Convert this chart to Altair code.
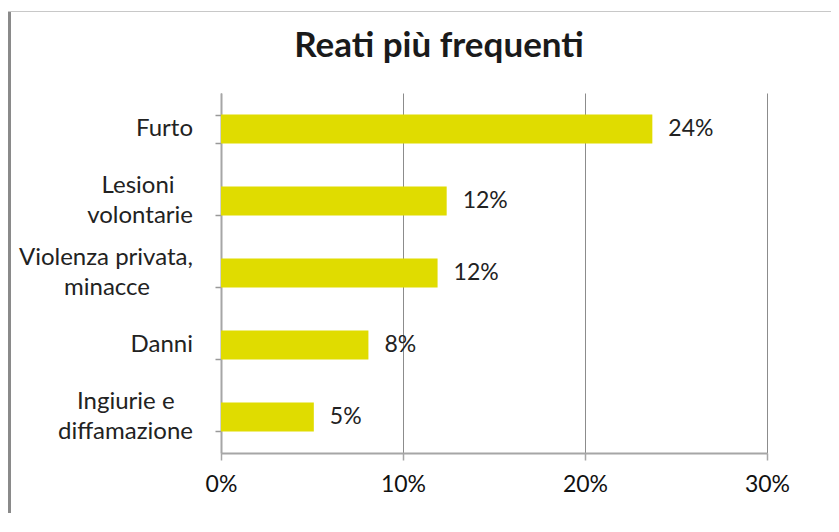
import altair as alt
import pandas as pd

# ---- data ----
categories = ["Furto", "Lesioni\nvolontarie", "Violenza privata,\nminacce", "Danni", "Ingiurie e\ndiffamazione"]
values = [0.237, 0.124, 0.119, 0.081, 0.051]
x_ticks = [0, 0.1, 0.2, 0.3]
title_text = ["Reati più frequenti"]

df = pd.DataFrame({"reato": categories, "quota": values})

FONT = "Lato"
TXT = "#222222"
W, H = 546, 360
PAD = {"left": 213, "top": 85, "right": 64, "bottom": 60}
NBSP = "\u00a0"
WJ = "\u2060"  # word joiner: keeps the padding from being treated as trailing space

x_enc = alt.X(
    "quota:Q",
    title=None,
    scale=alt.Scale(domain=[0, 0.3], nice=False),
    axis=alt.Axis(
        values=x_ticks, format=".0%", labelFont=FONT, labelFontSize=23, labelColor="#111111",
        labelPadding=13, labelFlush=False, tickSize=7, tickColor="#a6a6a6", tickWidth=1.5,
        domainColor="#a6a6a6", domainWidth=2, grid=True, gridColor="#8c8c8c", gridWidth=1,
    ),
)
y_enc = alt.Y(
    "reato:N",
    sort=categories,
    title=None,
    scale=alt.Scale(paddingInner=0.6, paddingOuter=0.3),
    axis=alt.Axis(
        labels=False, tickSize=6, tickBand="extent", tickColor="#999999", tickWidth=1.5,
        domainColor="#a6a6a6", domainWidth=2, grid=False,
    ),
)
y_plain = alt.Y("reato:N", sort=categories)

base = alt.Chart(df)
bars = base.mark_bar(color="#E0DC00").encode(x=x_enc, y=y_enc)
values_txt = base.mark_text(align="left", baseline="middle", dx=16, font=FONT, fontSize=23, color=TXT).encode(
    x="quota:Q", y=y_plain, text=alt.Text("quota:Q", format=".0%")
)

# category labels: one-line labels right-aligned; two-line labels centred line by line
# inside a right-aligned block (the shorter line is padded with no-break spaces)
cat_single = base.transform_filter("indexof(datum.reato, '\\n') < 0").mark_text(
    align="right", baseline="middle", dx=-28, font=FONT, fontSize=24, color=TXT
).encode(x=alt.value(0), y=y_plain, text="reato:N")

cat_double = (
    base.transform_filter("indexof(datum.reato, '\\n') >= 0")
    .transform_calculate(
        l1="split(datum.reato, '\\n')[0]",
        l2="split(datum.reato, '\\n')[1]",
    )
    .transform_calculate(
        npad="round(abs(length(datum.l1) - length(datum.l2)) * 0.6 + 1.4)",
    )
    .transform_calculate(
        lab=(
            "length(datum.l1) < length(datum.l2) ? "
            f"pad(datum.l1, length(datum.l1) + datum.npad, '{NBSP}', 'right') + '{WJ}' + '\\n' + datum.l2 : "
            f"datum.l1 + '\\n' + pad(datum.l2, length(datum.l2) + datum.npad, '{NBSP}', 'right') + '{WJ}'"
        )
    )
    .mark_text(
        align="right", baseline="middle", dx=-28, dy=-15, lineBreak="\n", lineHeight=30,
        font=FONT, fontSize=24, color=TXT,
    )
    .encode(x=alt.value(0), y=y_plain, text="lab:N")
)

frame_df = pd.DataFrame({"k": [0]})
left_border = alt.Chart(frame_df).mark_rule(color="#8a8a8a", strokeWidth=3).encode(
    x=alt.value(-211.5), y=alt.value(-82), y2=alt.value(H + PAD["bottom"])
)
top_border = alt.Chart(frame_df).mark_rule(color="#c8c8c8", strokeWidth=1).encode(
    x=alt.value(-213), x2=alt.value(W + PAD["right"]), y=alt.value(-81.5)
)
title = alt.Chart(pd.DataFrame({"t": title_text})).mark_text(
    font=FONT, fontSize=35, fontWeight="bold", color="#1a1a1a", align="center", baseline="alphabetic"
).encode(x=alt.value(218), y=alt.value(-36), text="t:N")

chart = alt.layer(bars, values_txt, cat_single, cat_double, left_border, top_border, title).properties(
    width=W,
    height=H,
    padding=PAD,
    autosize=alt.AutoSizeParams(type="none"),
    background="white",
).configure_view(stroke=None)

chart.save("out.html", embed_options={"renderer": "svg", "actions": False})
